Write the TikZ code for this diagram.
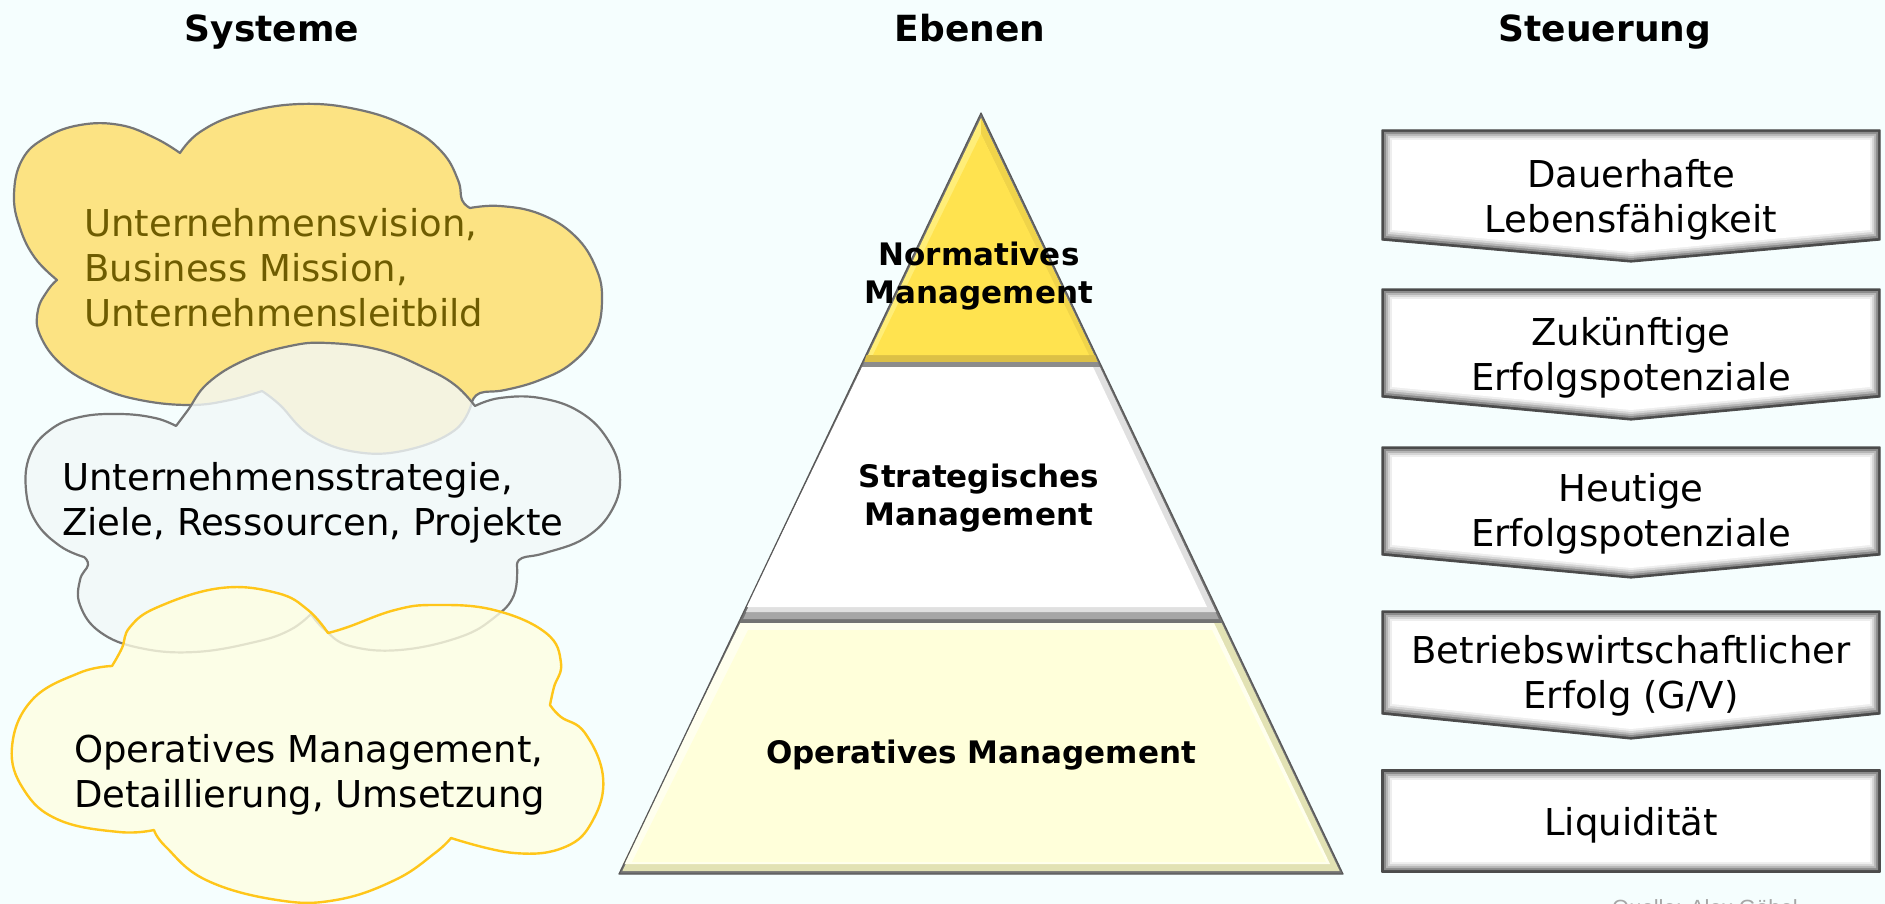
\documentclass[tikz,border=0pt]{standalone}
\usepackage{fontspec}
\setmainfont{DejaVu Sans}
\newfontfamily\srcfont{Liberation Sans}
\definecolor{bg}{HTML}{F5FEFE}
\definecolor{cloudY}{HTML}{FCE383}
\definecolor{cloudYtext}{HTML}{6E5C00}
\definecolor{cloudG}{HTML}{F2F8F8}
\definecolor{cloudL}{HTML}{FEFEE2}
\definecolor{gold}{HTML}{FFC61A}
\definecolor{cline}{HTML}{767676}
\definecolor{pyrY}{HTML}{FFE34F}
\definecolor{pyrYl}{HTML}{FFEE78}
\definecolor{pyrYd}{HTML}{DCC046}
\definecolor{pyrYr}{HTML}{F0D44A}
\definecolor{pyrL}{HTML}{FFFFDA}
\definecolor{pyrLl}{HTML}{FFFFEE}
\definecolor{pyrLd}{HTML}{E2E2B4}
\definecolor{bvA}{HTML}{4A4A4A}
\definecolor{bvB}{HTML}{8C8C8C}
\definecolor{bvC}{HTML}{B5B5B5}
\definecolor{bvD}{HTML}{D5D5D5}
\definecolor{bvE}{HTML}{EEEEEE}
\tikzset{
  head/.style={font=\fontsize{36}{42}\selectfont\bfseries, inner sep=0pt, anchor=base},
  cloudtxt/.style={font=\fontsize{37}{45}\selectfont, inner sep=0pt, align=left, anchor=west},
  boxtxt/.style={font=\fontsize{37}{45}\selectfont, inner sep=0pt, align=center},
  pyrtxt/.style={font=\fontsize{31}{38}\selectfont\bfseries, inner sep=0pt, align=center},
  cloudone/.style={fill=cloudY, draw=cline, line width=2.2pt, line join=round},
  cloudtwo/.style={fill=cloudG, fill opacity=0.8, draw=cline, line width=2.2pt, line join=round},
  cloudthree/.style={fill=cloudL, fill opacity=0.8, draw=gold, line width=2.4pt, line join=round},
  pyredge/.style={draw=black!65, line width=1.2pt, line join=round},
}
% #1 name, #2 top, #3 side bottom, #4 tip, #5 text, #6 text shift
\newcommand\stbox[6]{%
  \foreach \d/\c in {0/bvA,2/bvB,4/bvC,6/bvD,8/bvE,10/white}{
    \fill[\c] ({1382+\d},{#2+\d}) -- ({1880-\d},{#2+\d}) -- ({1880-\d},{#3-\d}) -- (1631,{#4-\d}) -- ({1382+\d},{#3-\d}) -- cycle;
  }
  \draw[black!70, line width=1.2pt, line join=round] (1382,#2) -- (1880,#2) -- (1880,#3) -- (1631,#4) -- (1382,#3) -- cycle;
  \node[boxtxt] (#1) at (1631,{(#2+#3)/2+#6}) {#5};
}
\begin{document}
\begin{tikzpicture}[x=1pt,y=-1pt]
\useasboundingbox (0,0) rectangle (1885,904);
\clip (0,0) rectangle (1885,904);
\fill[bg] (0,0) rectangle (1885,904);

% headers
\node[head] (hsys) at (272,42) {Systeme};
\node[head] (heb) at (970,42) {Ebenen};
\node[head] (hst) at (1605,42) {Steuerung};

% cloud 1
\draw[cloudone] (180,153)
 -- plot[smooth,tension=0.7] coordinates {(180,153) (200,132) (240,114) (300,104) (360,110) (410,128) (442,152) (458,180) (462,200) (470,208)}
 -- plot[smooth,tension=0.7] coordinates {(470,208) (500,206) (540,214) (575,236) (596,268) (602,300) (595,335) (572,363) (540,380) (505,390) (480,393) (472,402)}
 -- plot[smooth,tension=0.7] coordinates {(472,402) (455,430) (407,450) (356,452) (310,435) (280,405) (262,391)}
 -- plot[smooth,tension=0.7] coordinates {(262,391) (230,400) (190,405) (140,400) (99,387) (62,365) (40,335) (38,310) (48,290) (57,280)}
 -- plot[smooth,tension=0.7] coordinates {(57,280) (35,258) (20,228) (14,195) (22,160) (45,138) (80,125) (120,125) (155,138) (180,153)}
 -- cycle;
\node[cloudtxt, text=cloudYtext] (c1) at (84,268) {Unternehmensvision,\\Business Mission,\\Unternehmensleitbild};

% cloud 2
\draw[cloudtwo] (176,426)
 -- plot[smooth,tension=0.7] coordinates {(176,426) (188,410) (208,383) (245,360) (290,346) (328,343) (380,350) (425,368) (455,385) (475,406)}
 -- plot[smooth,tension=0.7] coordinates {(475,406) (500,398) (540,398) (580,412) (608,440) (620,475) (612,510) (585,538) (545,553) (522,558) (517,565)}
 -- plot[smooth,tension=0.7] coordinates {(517,565) (514,595) (495,617) (460,637) (400,650) (350,646) (325,630) (311,614)}
 -- plot[smooth,tension=0.7] coordinates {(311,614) (290,630) (255,642) (195,652) (140,648) (100,632) (80,605) (80,580) (88,565) (84,557)}
 -- plot[smooth,tension=0.7] coordinates {(84,557) (60,546) (36,522) (26,490) (30,455) (50,430) (80,417) (120,414) (155,418) (176,426)}
 -- cycle;
\node[cloudtxt] (c2) at (62,503) {Unternehmensstrategie,\\Ziele, Ressourcen, Projekte};

% cloud 3
\draw[cloudthree] (112,666)
 -- plot[smooth,tension=0.7] coordinates {(112,666) (122,648) (130,627) (158,607) (221,588) (277,593) (308,610) (328,633)}
 -- plot[smooth,tension=0.7] coordinates {(328,633) (348,627) (395,610) (435,605) (494,610) (546,633) (561,663) (554,687) (550,705)}
 -- plot[smooth,tension=0.7] coordinates {(550,705) (561,717) (585,733) (603,777) (593,820) (565,847) (514,853) (451,838)}
 -- plot[smooth,tension=0.7] coordinates {(451,838) (435,853) (395,880) (336,900) (277,900) (206,880) (166,847) (154,830)}
 -- plot[smooth,tension=0.7] coordinates {(154,830) (119,832) (59,820) (24,790) (12,747) (32,700) (79,673) (112,666)}
 -- cycle;
\node[cloudtxt] (c3) at (74,775) {Operatives Management,\\Detaillierung, Umsetzung};

% pyramid
\fill[black!55] (981,113) -- (1343,874) -- (619,874) -- cycle;
% top section
\fill[pyrYl] (981,118) -- (1097.4,362) -- (864.6,362) -- cycle;
\fill[pyrYr] (981,118) -- (1097.4,362) -- (1089,357) -- (981,134) -- cycle;
\fill[pyrYd] (866,355) -- (1095,355) -- (1097.4,362) -- (864.6,362) -- cycle;
\fill[pyrY] (981,134) -- (1089,355) -- (873,355) -- cycle;
\fill[black!45] (864.6,362) -- (1097.4,362) -- (1099.8,367) -- (862.2,367) -- cycle;
% middle section
\fill[black!35] (862.2,367) -- (1099.8,367) -- (1218.8,619) -- (743.2,619) -- cycle;
\fill[black!12] (862.2,367) -- (1099.8,367) -- (1216,612) -- (746,612) -- cycle;
\fill[white] (862.2,367) -- (1093,367) -- (1207,607) -- (746,607) -- cycle;
% bottom section
\fill[pyrLd] (740.4,623) -- (1221.6,623) -- (1339.6,871) -- (622.4,871) -- cycle;
\fill[pyrLl] (740.4,623) -- (1214,623) -- (1330,864) -- (622.4,864) -- cycle;
\fill[pyrL] (748,630) -- (1212,630) -- (1326,862) -- (632,862) -- cycle;
\draw[pyredge] (981,113) -- (1343,874) -- (619,874) -- cycle;

\node[pyrtxt] (pn) at (979,276) {Normatives\\Management};
\node[pyrtxt] (ps) at (979,498) {Strategisches\\Management};
\node[pyrtxt, anchor=base] (po) at (981,763) {Operatives Management};

% steering boxes
\stbox{s1}{130}{240}{262}{Dauerhafte\\Lebensfähigkeit}{15}
\stbox{s2}{289}{397}{420}{Zukünftige\\Erfolgspotenziale}{15}
\stbox{s3}{447}{555}{578}{Heutige\\Erfolgspotenziale}{13}
\stbox{s4}{611}{714}{739}{Betriebswirtschaftlicher\\Erfolg (G/V)}{13}
\stbox{s5}{770}{872}{872}{Liquidität}{4}

% source
\node[inner sep=0pt, anchor=base west, text=black!35, font=\srcfont\fontsize{22}{26}\selectfont] (src) at (1612,915) {Quelle: Alex Göbel};
\end{tikzpicture}
\end{document}
